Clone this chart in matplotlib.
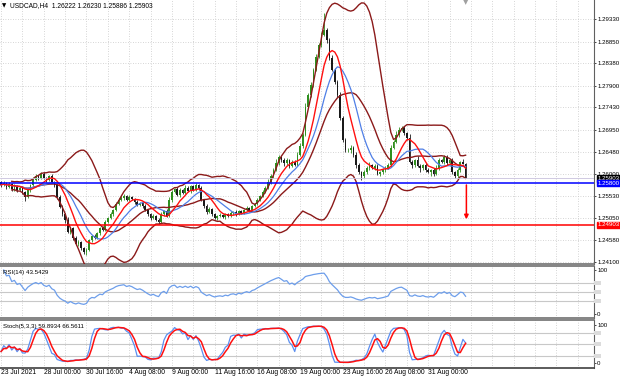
"""
USDCAD H4 — 复刻 MT4 图表：K线 + 布林带 + 均线 + RSI + Stoch
"""

import matplotlib

matplotlib.use("Agg")

import matplotlib.pyplot as plt
import matplotlib.transforms as mtransforms
from matplotlib.patches import Rectangle
import numpy as np
import pandas as pd

plt.rcParams["font.family"] = ["Liberation Sans", "DejaVu Sans"]

# ---- 数据（从图上读出的收盘价，每行 10 根 H4 K线） ----
close = [
    1.2576, 1.2580, 1.2572, 1.2578, 1.2567, 1.2574, 1.2565, 1.2570, 1.2561, 1.2550,
    1.2565, 1.2576, 1.2587, 1.2595, 1.2591, 1.2600, 1.2591, 1.2587, 1.2595, 1.2582,
    1.2576, 1.2550, 1.2529, 1.2513, 1.2501, 1.2475, 1.2483, 1.2462, 1.2449, 1.2454,
    1.2440, 1.2432, 1.2436, 1.2457, 1.2466, 1.2462, 1.2473, 1.2483, 1.2479, 1.2496,
    1.2505, 1.2513, 1.2522, 1.2535, 1.2544, 1.2548, 1.2552, 1.2544, 1.2550, 1.2546,
    1.2539, 1.2533, 1.2537, 1.2531, 1.2522, 1.2513, 1.2505, 1.2509, 1.2501, 1.2496,
    1.2513, 1.2520, 1.2509, 1.2544, 1.2561, 1.2567, 1.2554, 1.2565, 1.2559, 1.2570,
    1.2563, 1.2574, 1.2565, 1.2576, 1.2570, 1.2544, 1.2531, 1.2518, 1.2524, 1.2513,
    1.2505, 1.2509, 1.2511, 1.2507, 1.2513, 1.2509, 1.2516, 1.2518, 1.2513, 1.2520,
    1.2516, 1.2522, 1.2526, 1.2522, 1.2531, 1.2535, 1.2544, 1.2552, 1.2561, 1.2570,
    1.2582, 1.2595, 1.2608, 1.2623, 1.2636, 1.2630, 1.2623, 1.2630, 1.2617, 1.2626,
    1.2619, 1.2641, 1.2660, 1.2684, 1.2744, 1.2770, 1.2791, 1.2824, 1.2852, 1.2878,
    1.2899, 1.2910, 1.2888, 1.2850, 1.2824, 1.2798, 1.2770, 1.2720, 1.2673, 1.2651,
    1.2651, 1.2656, 1.2641, 1.2619, 1.2604, 1.2595, 1.2604, 1.2613, 1.2619, 1.2613,
    1.2617, 1.2600, 1.2604, 1.2608, 1.2613, 1.2619, 1.2656, 1.2669, 1.2684, 1.2695,
    1.2699, 1.2688, 1.2677, 1.2626, 1.2619, 1.2630, 1.2617, 1.2613, 1.2619, 1.2608,
    1.2604, 1.2608, 1.2600, 1.2613, 1.2630, 1.2626, 1.2636, 1.2623, 1.2630, 1.2604,
    1.2595, 1.2608, 1.2626, 1.26222, 1.25903,
]
first_open = 1.2582

# 影线长度（点，1 点 = 0.0001）
wick_hi = [
    3, 4, 2, 5, 3, 4, 2, 3, 4, 2,
    5, 3, 6, 4, 3, 5, 4, 3, 2, 4,
    3, 2, 4, 3, 2, 5, 3, 2, 4, 3,
    2, 3, 4, 2, 3, 4, 2, 3, 5, 4,
    3, 4, 2, 5, 3, 6, 4, 3, 5, 2,
    3, 4, 2, 3, 4, 2, 3, 5, 2, 3,
    4, 3, 5, 6, 4, 3, 5, 4, 3, 6,
    4, 3, 2, 5, 3, 4, 2, 3, 4, 2,
    3, 2, 4, 3, 2, 3, 4, 2, 3, 2,
    3, 2, 4, 3, 2, 3, 4, 3, 5, 4,
    6, 4, 5, 8, 4, 3, 5, 4, 3, 4,
    3, 5, 6, 4, 8, 5, 6, 4, 7, 5,
    6, 37, 5, 4, 6, 5, 4, 6, 5, 4,
    5, 6, 4, 5, 4, 3, 5, 4, 6, 3,
    4, 5, 3, 4, 3, 5, 6, 4, 8, 6,
    5, 4, 3, 8, 4, 3, 9, 4, 3, 5,
    4, 3, 5, 6, 4, 3, 5, 4, 3, 4,
    3, 4, 2, 5, 0.8,
]
wick_lo = [
    4, 3, 5, 2, 4, 3, 5, 3, 4, 8,
    3, 4, 2, 3, 4, 2, 3, 4, 3, 2,
    4, 5, 3, 4, 6, 3, 4, 5, 3, 4,
    5, 4, 6, 3, 4, 2, 3, 4, 2, 3,
    2, 3, 4, 2, 3, 2, 4, 3, 2, 3,
    4, 2, 3, 4, 2, 3, 4, 2, 3, 4,
    3, 4, 2, 3, 4, 3, 2, 4, 3, 2,
    3, 4, 3, 2, 4, 3, 5, 4, 3, 4,
    3, 4, 2, 3, 4, 3, 2, 4, 3, 2,
    3, 2, 3, 4, 2, 3, 2, 3, 2, 3,
    2, 3, 4, 2, 3, 4, 6, 3, 4, 3,
    2, 3, 2, 4, 3, 2, 4, 3, 2, 3,
    4, 3, 5, 4, 3, 4, 5, 3, 4, 5,
    4, 6, 5, 7, 4, 8, 3, 4, 5, 3,
    4, 3, 5, 4, 3, 2, 4, 3, 2, 4,
    3, 4, 5, 3, 6, 4, 3, 9, 4, 5,
    3, 8, 4, 3, 4, 3, 5, 4, 3, 4,
    5, 3, 4, 2, 0.2,
]

price_ticks = [1.24100, 1.24580, 1.25050, 1.25530, 1.26000, 1.26480,
               1.26950, 1.27430, 1.27900, 1.28380, 1.28850, 1.29330]
date_labels = ["23 Jul 2021", "28 Jul 00:00", "30 Jul 16:00", "4 Aug 08:00",
               "9 Aug 00:00", "11 Aug 16:00", "16 Aug 08:00", "19 Aug 00:00",
               "23 Aug 16:00", "26 Aug 08:00", "31 Aug 00:00"]
date_bars = [0, 16, 32, 48, 64, 80, 96, 112, 128, 144, 160]

blue_level = 1.25800
red_level = 1.24903
last_price = 1.25903
arrow_from, arrow_to = 1.2576, 1.2502
header = "USDCAD,H4  1.26222 1.26230 1.25886 1.25903"
rsi_title = "RSI(14) 43.5429"
sto_title = "Stoch(5,3,3) 59.8934 66.5611"

# ---- 指标计算 ----
c = pd.Series(close)
o = c.shift(1)
o.iloc[0] = first_open
hi = np.maximum(o, c) + np.array(wick_hi) * 1e-4
lo = np.minimum(o, c) - np.array(wick_lo) * 1e-4

bb_mid = c.rolling(20, min_periods=5).mean()
bb_sd = c.rolling(20, min_periods=5).std(ddof=0)
bb_up, bb_dn = bb_mid + 2 * bb_sd, bb_mid - 2 * bb_sd
ma_fast = c.rolling(8, min_periods=1).mean()
ma_slow = c.rolling(13, min_periods=1).mean()

delta = c.diff()
gain = delta.clip(lower=0).ewm(alpha=1 / 14, adjust=False).mean()
loss = (-delta.clip(upper=0)).ewm(alpha=1 / 14, adjust=False).mean()
rsi = 100 * gain / (gain + loss)

ll = lo.rolling(5, min_periods=1).min()
hh = hi.rolling(5, min_periods=1).max()
sto_k = 100 * (c - ll).rolling(3, min_periods=1).sum() / (hh - ll).rolling(3, min_periods=1).sum()
sto_d = sto_k.rolling(3, min_periods=1).mean()

x = np.arange(len(c))

# ---- 画布 ----
W, H = 620, 383
fig = plt.figure(figsize=(W / 100, H / 100), dpi=100)
fig.patch.set_facecolor("white")


def panel(top, bottom):
    return fig.add_axes([0, 1 - bottom / H, 594 / W, (bottom - top) / H])


ax = panel(0, 264)
ax_rsi = panel(266, 318)
ax_sto = panel(320, 368)

XLIM = (-0.4, 222.1)
GRID = dict(color="#c8c8c8", lw=0.6, ls=(0, (1, 2)), zorder=0)
FS = 4.4

for a in (ax, ax_rsi, ax_sto):
    a.set_xlim(*XLIM)
    a.set_facecolor("white")
    a.spines["left"].set_visible(False)
    a.spines["right"].set_color("#606060")
    a.spines["top"].set_color("#707070")
    a.spines["bottom"].set_color("#707070")
    a.spines["top"].set_linewidth(1.2)
    a.spines["bottom"].set_linewidth(1.2)
    a.set_xticks([])
    a.yaxis.tick_right()
    a.tick_params(axis="y", length=1.5, width=0.5, pad=0.8, labelsize=FS, colors="black")
    for gx in range(0, 223, 8):
        a.axvline(gx, **GRID)
ax.spines["top"].set_visible(False)

# ---- 主图 ----
ax.set_ylim(1.24057, 1.29746)
for p in price_ticks:
    ax.axhline(p, **GRID)
ax.set_yticks(price_ticks)
ax.set_yticklabels([f"{p:.5f}" for p in price_ticks])

up = (c >= o).to_numpy()
col = np.where(up, "#2f8f1f", "#1a1a1a")
ax.vlines(x, lo, hi, colors=col, lw=0.6, zorder=2)
body = np.maximum((c - o).abs(), 0.00004)
ax.bar(x, body, bottom=np.minimum(o, c), width=0.65, color=col, lw=0, zorder=2)

for band in (bb_up, bb_mid, bb_dn):
    ax.plot(x, band, color="#8b1a1a", lw=1.0, zorder=3)
ax.plot(x, ma_slow, color="#4f7fe6", lw=0.9, zorder=4)
ax.plot(x, ma_fast, color="#ff1010", lw=1.0, zorder=5)

ax.axhline(last_price, color="#c9c2dd", lw=0.6, zorder=3)
ax.axhline(blue_level, color="#0000ff", lw=1.1, zorder=6)
ax.axhline(red_level, color="#ff0000", lw=1.1, zorder=6)

ax.annotate("", xy=(174.3, arrow_to), xytext=(174.3, arrow_from),
            arrowprops=dict(arrowstyle="-|>", color="#ff0000", lw=1.1,
                            mutation_scale=6, shrinkA=0, shrinkB=0), zorder=7)

lab_tr = mtransforms.blended_transform_factory(ax.transAxes, ax.transData)
for val, bg in ((last_price, "black"), (blue_level, "#0000ff"), (red_level, "#ff0000")):
    ax.text(1.006, val, f"{val:.5f}", transform=lab_tr, fontsize=FS, color="white",
            va="center", ha="left", clip_on=False, zorder=10,
            bbox=dict(boxstyle="square,pad=0.12", fc=bg, ec=bg))

fig.text(2 / W, 1 - 6 / H, "\u25bc", fontsize=4, va="center", ha="left",
         family=["DejaVu Sans"])
fig.text(10 / W, 1 - 6 / H, header, fontsize=4.8, va="center", ha="left")
fig.text(466 / W, 1 - 2 / H, "\u25bc", fontsize=5, color="#a0a0a0",
         va="center", ha="center", family=["DejaVu Sans"])

# ---- RSI ----
ax_rsi.set_ylim(-9.1, 109.1)
for lv in (70, 50, 30):
    ax_rsi.axhline(lv, color="#c8c8c8", lw=0.8, zorder=1)
ax_rsi.plot(x, rsi, color="#6d9eeb", lw=0.9, zorder=3)
ax_rsi.set_yticks([100, 0])
ax_rsi.set_yticklabels(["100", "0"])
ax_rsi.text(0.005, 0.88, rsi_title, transform=ax_rsi.transAxes, fontsize=4.4,
            va="center", ha="left")

# ---- Stoch ----
ax_sto.set_ylim(-12.3, 113)
for lv in (80, 50, 20):
    ax_sto.axhline(lv, color="#c8c8c8", lw=0.8, zorder=1)
ax_sto.plot(x, sto_k, color="#5b8ff0", lw=0.9, zorder=3)
ax_sto.plot(x, sto_d, color="#ff1010", lw=1.1, zorder=4)
ax_sto.set_yticks([100, 0])
ax_sto.set_yticklabels(["100", "0"])
ax_sto.text(0.005, 0.86, sto_title, transform=ax_sto.transAxes, fontsize=4.4,
            va="center", ha="left")

for a, levels in ((ax_rsi, (70, 50, 30)), (ax_sto, (80, 50, 20))):
    tr = mtransforms.blended_transform_factory(a.transAxes, a.transData)
    for lv in levels:
        a.add_patch(Rectangle((1.0, lv - 5), 0.012, 10, transform=tr, fc="#dcdcdc",
                              ec="none", clip_on=False, zorder=5))

# 时间轴
ax_sto.spines["bottom"].set_color("#404040")
for b, t in zip(date_bars, date_labels):
    ax_sto.text(b, -16, t, fontsize=4.9, va="top", ha="left", clip_on=False)

fig.savefig("out.png", dpi=100, facecolor="white")
plt.close(fig)
